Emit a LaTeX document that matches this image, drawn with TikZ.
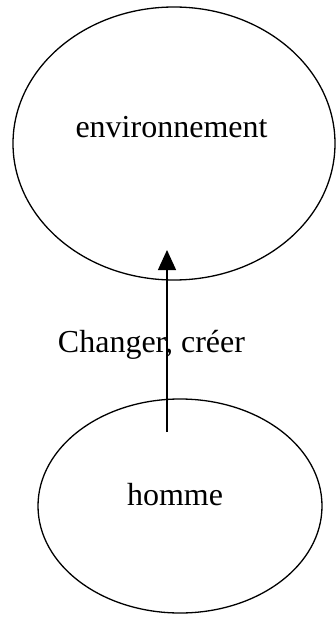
\documentclass[tikz,border=0pt]{standalone}
\usepackage{fontspec}
\setmainfont{Liberation Serif}
\usetikzlibrary{shapes.geometric,arrows.meta}
\begin{document}
\begin{tikzpicture}[x=1pt,y=-1pt,
  oval/.style={draw,ellipse,line width=1.3pt,inner sep=0pt},
  lbl/.style={font=\fontsize{32}{36}\selectfont,inner sep=0pt,anchor=base},
  conn/.style={line width=1.3pt,-{Triangle[length=20pt,width=18pt]}}]
\useasboundingbox (0,0) rectangle (335,620);
\node[oval,minimum width=322pt,minimum height=273pt] (env) at (174,143.5) {};
\node[oval,minimum width=284pt,minimum height=214pt] (hom) at (180,506) {};
\node[lbl] (envt) at (171.5,138) {environnement};
\node[lbl] (homt) at (175,505) {homme};
\node[lbl] (act) at (151.5,352) {Changer, créer};
\coordinate (s) at (167,432);
\coordinate (e) at (167,250);
\draw[conn] (s) -- (e);
\end{tikzpicture}
\end{document}
